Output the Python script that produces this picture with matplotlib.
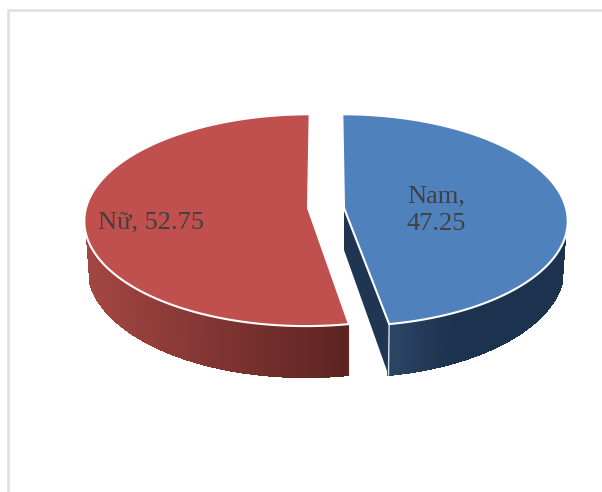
import numpy as np
import matplotlib
matplotlib.use("Agg")
import matplotlib.pyplot as plt
from matplotlib.collections import PolyCollection
from matplotlib.colors import to_rgb

categories = ["Nam", "Nữ"]
values = [47.25, 52.75]
label_lines = ["Nam,\n47.25", "Nữ, 52.75"]
top_colors = ["#4F81BD", "#C0504D"]
side_left = ["#2C4665", "#A34643"]
side_right = ["#1C334F", "#5C2321"]
cut_color = "#1F3552"

W, H = 602, 492
fig = plt.figure(figsize=(W / 100, H / 100), dpi=100)
ax = fig.add_axes([0, 0, 1, 1])
ax.set_xlim(0, W)
ax.set_ylim(H, 0)
ax.axis("off")

# perspective of the pie plane
A, B, K = 222.0, 104.5, 0.115
BOTTOM_SHRINK = 0.985
skews = [0.018, -0.018]


def rim(theta, cx, cy, skew):
    w = 1 + K * np.cos(theta)
    x = A * np.sin(theta) / w
    y = B * np.cos(theta) / w
    return cx + x + skew * (-y), cy - y


def depth(theta):
    return 45.0 - 6.0 * np.cos(theta)


def lerp(c0, c1, t):
    return tuple(np.array(to_rgb(c0)) * (1 - t) + np.array(to_rgb(c1)) * t)


fracs = np.array(values) / sum(values) * 2 * np.pi
split = fracs[0]
centers = [(344.0, 208.0), (308.0, 208.0)]
ranges = [(0.0, split), (split, 2 * np.pi)]

for i in [0, 1]:
    cx, cy = centers[i]
    t0, t1 = ranges[i]
    th = np.linspace(t0, t1, 361)
    rx, ry = rim(th, cx, cy, skews[i])

    # outer wall, front part only, from the point where the bevel meets it
    vis = ry >= cy + 29
    tv = th[vis]
    vx, vy = rx[vis], ry[vis]
    dv = depth(tv)
    bx = cx + (vx - cx) * BOTTOM_SHRINK
    polys, cols = [], []
    xmin, xmax = vx.min(), vx.max()
    for j in range(len(tv) - 1):
        polys.append([(vx[j], vy[j]), (vx[j + 1], vy[j + 1]),
                      (bx[j + 1], vy[j + 1] + dv[j + 1]), (bx[j], vy[j] + dv[j])])
        s = (vx[j] - xmin) / (xmax - xmin)
        s = s if i == 1 else min(1.0, s / 0.35)
        cols.append(lerp(side_left[i], side_right[i], np.clip(s, 0, 1)))
    ax.add_collection(PolyCollection(polys, facecolors=cols, edgecolors=cols,
                                     linewidths=0.8, antialiaseds=False, zorder=2))

    # cut face of the slice that faces the viewer
    if i == 0:
        tx, ty = rim(t1, cx, cy, skews[i])
        bx0 = cx + (tx - cx) * BOTTOM_SHRINK
        ax.fill([cx, tx, bx0, cx], [cy, ty, ty + depth(t1), cy + 42],
                color=cut_color, lw=0, zorder=3)
        ax.plot([tx, bx0], [ty, ty + depth(t1)], color="#DDE3EA", lw=1.0, zorder=4)
    else:
        tx, ty = rim(t0, cx, cy, skews[i])
        ax.plot([tx, tx], [ty, ty + depth(t0)], color="#F3E6E5", lw=0.8, zorder=4)

    # top face with its pale bevel
    ax.fill(np.r_[cx, rx], np.r_[cy, ry], facecolor=top_colors[i],
            edgecolor="white", lw=1.5, joinstyle="miter", zorder=5)

# slice labels
ax.text(436, 210, label_lines[0], ha="center", va="center", ma="center",
        family="Liberation Serif", fontsize=19, color="#404040",
        linespacing=1.33, zorder=6)
ax.text(150.5, 222, label_lines[1], ha="center", va="center",
        family="Liberation Serif", fontsize=19, color="#404040", zorder=6)

# chart frame
ax.plot([7.5, 7.5, W], [H, 9.5, 9.5], color="#DEDEDE", lw=1.8,
        solid_joinstyle="miter", zorder=1)

fig.savefig("out.png", dpi=100)
